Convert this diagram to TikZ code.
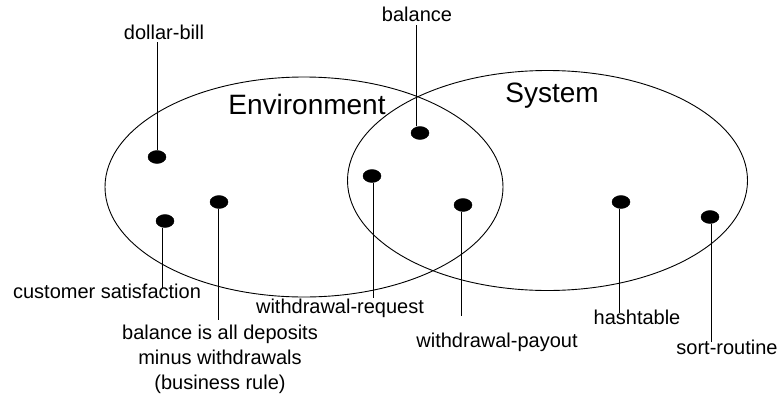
\documentclass[tikz,border=0pt]{standalone}
\usepackage{fontspec}
\setmainfont{Liberation Sans}
\usetikzlibrary{shapes.geometric}
\begin{document}
\begin{tikzpicture}[x=1pt,y=-1pt,
  blob/.style={ellipse, fill=black, draw=black, minimum width=18pt, minimum height=13pt, inner sep=0pt},
  lbl/.style={inner sep=0pt, anchor=base, font=\fontsize{20}{25}\selectfont},
  big/.style={inner sep=0pt, anchor=base, font=\fontsize{28}{32}\selectfont},
  stem/.style={line width=0.9pt},
  region/.style={line width=0.9pt}]
\useasboundingbox (0,0) rectangle (781,399);
\fill[white] (0,0) rectangle (781,399);
% regions
\draw[region] (304,187) ellipse (199 and 110);
\draw[region] (547.5,180.5) ellipse (200 and 110);
\node[big] (envt) at (307,114) {Environment};
\node[big] (syst) at (552,102) {System};
% labels
\node[lbl] (ldollar) at (164,39) {dollar-bill};
\node[lbl] (lbal) at (417,21) {balance};
\node[lbl] (lcust) at (107,298) {customer satisfaction};
\node[lbl] (lwreq) at (340,313) {withdrawal-request};
\node[lbl, anchor=north, align=center] (lrule) at (220,324.5) {balance is all deposits\\minus withdrawals\\(business rule)};
\node[lbl] (lwpay) at (497,347) {withdrawal-payout};
\node[lbl] (lhash) at (637,324) {hashtable};
\node[lbl] (lsort) at (727,354) {sort-routine};
% stem ends
\coordinate (edollar) at (155,42);
\coordinate (ebal) at (416,25);
\coordinate (ecust) at (162,288);
\coordinate (ewreq) at (373,298);
\coordinate (erule) at (218,320);
\coordinate (ewpay) at (461,316);
\coordinate (ehash) at (619,313);
\coordinate (esort) at (711,342);
% dots
\node[blob] (ddollar) at (157,157) {};
\node[blob] (dbal) at (420,133) {};
\node[blob] (dcust) at (165,221) {};
\node[blob] (drule) at (219,202) {};
\node[blob] (dwreq) at (372,176) {};
\node[blob] (dwpay) at (463,205) {};
\node[blob] (dhash) at (621,202) {};
\node[blob] (dsort) at (710,217) {};
% stems
\draw[stem] (ddollar.center |- ddollar.north) -- (ddollar.center |- edollar);
\draw[stem] (ebal |- dbal.north) -- (ebal);
\draw[stem] (ecust |- dcust.south) -- (ecust);
\draw[stem] (erule |- drule.south) -- (erule);
\draw[stem] (ewreq |- dwreq.south) -- (ewreq);
\draw[stem] (ewpay |- dwpay.south) -- (ewpay);
\draw[stem] (ehash |- dhash.south) -- (ehash);
\draw[stem] (esort |- dsort.south) -- (esort);
\end{tikzpicture}
\end{document}
